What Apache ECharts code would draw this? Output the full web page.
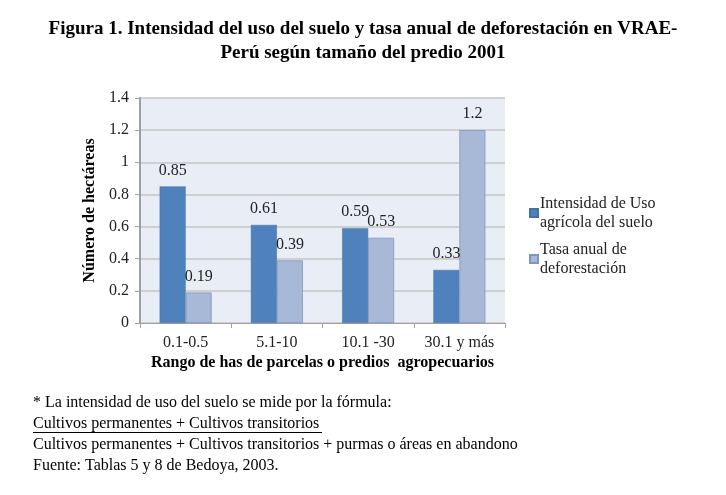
<!DOCTYPE html>
<html><head><meta charset="utf-8">
<script src="https://cdn.jsdelivr.net/npm/echarts@6/dist/echarts.min.js"></script>
<style>html,body{margin:0;padding:0;background:#fff}#c{width:726px;height:495px}</style>
</head><body><div id="c"></div>
<script>
const categories = ['0.1-0.5', '5.1-10', '10.1 -30', '30.1 y más'];
const intensidad = [0.85, 0.61, 0.59, 0.33];
const tasa = [0.19, 0.39, 0.53, 1.2];
const seriesNames = ['Intensidad de Uso\nagrícola del suelo', 'Tasa anual de\ndeforestación'];
const titleLines = 'Figura 1. Intensidad del uso del suelo y tasa anual de deforestación en VRAE-\nPerú según tamaño del predio 2001';
const footLines = [
  '* La intensidad de uso del suelo se mide por la fórmula:',
  'Cultivos permanentes + Cultivos transitorios',
  'Cultivos permanentes + Cultivos transitorios + purmas o áreas en abandono',
  'Fuente: Tablas 5 y 8 de Bedoya, 2003.'
];
const serif = '"Liberation Serif","DejaVu Serif",serif';
const chart = echarts.init(document.getElementById('c'));
const labelStyle = {show: true, position: 'top', fontFamily: serif, fontSize: 16, color: '#222', distance: 8};
chart.setOption({
  animation: false,
  title: {
    text: titleLines, left: 'center', top: 12,
    textStyle: {fontFamily: serif, fontSize: 19, fontWeight: 'bold', color: '#000', lineHeight: 24}
  },
  legend: {
    orient: 'vertical', left: 524, top: 189, itemWidth: 8, itemHeight: 8, itemGap: 8,
    icon: 'rect',
    textStyle: {fontFamily: serif, fontSize: 16, color: '#222', lineHeight: 19, padding: [0, 0, 0, -3]},
    data: seriesNames
  },
  grid: {left: 140, right: 221, top: 98, bottom: 172, backgroundColor: '#e9edf5', show: true, borderWidth: 0},
  xAxis: {
    type: 'category', data: categories,
    name: 'Rango de has de parcelas o predios  agropecuarios',
    nameLocation: 'middle', nameGap: 32,
    nameTextStyle: {fontFamily: serif, fontSize: 16, fontWeight: 'bold', color: '#000'},
    axisLine: {lineStyle: {color: '#a0a0a0', width: 1}},
    axisTick: {show: true, length: 5, lineStyle: {color: '#a0a0a0'}},
    axisLabel: {fontFamily: serif, fontSize: 16, color: '#222', margin: 12}
  },
  yAxis: {
    type: 'value', min: 0, max: 1.4, interval: 0.2,
    name: 'Número de hectáreas', nameLocation: 'middle', nameGap: 36,
    nameTextStyle: {fontFamily: serif, fontSize: 16, fontWeight: 'bold', color: '#000'},
    axisLine: {show: true, lineStyle: {color: '#a0a0a0', width: 2}},
    axisTick: {show: true, length: 5, lineStyle: {color: '#a0a0a0'}},
    splitLine: {lineStyle: {color: '#c4c4c4', width: 1.5}},
    axisLabel: {fontFamily: serif, fontSize: 16, color: '#222', margin: 11,
      formatter: v => String(Math.round(v * 10) / 10)}
  },
  series: [
    {name: seriesNames[0], type: 'bar', data: intensidad, barWidth: 26, barGap: '0%',
      itemStyle: {color: '#4f81bd', borderColor: '#45719f', borderWidth: 0.5}, label: labelStyle},
    {name: seriesNames[1], type: 'bar', data: tasa, barWidth: 26,
      itemStyle: {color: '#a8b9d8', borderColor: '#7f96c0', borderWidth: 0.8}, label: labelStyle}
  ],
  graphic: [
    ...footLines.map((t, i) => ({
      type: 'text', left: 33, top: 395 + i * 21,
      style: {text: t, fontFamily: serif, fontSize: 16, fill: '#000'}
    })),
    {type: 'rect', left: 33, top: 432, shape: {width: 289, height: 1}, style: {fill: '#000'}}
  ]
});
</script></body></html>
